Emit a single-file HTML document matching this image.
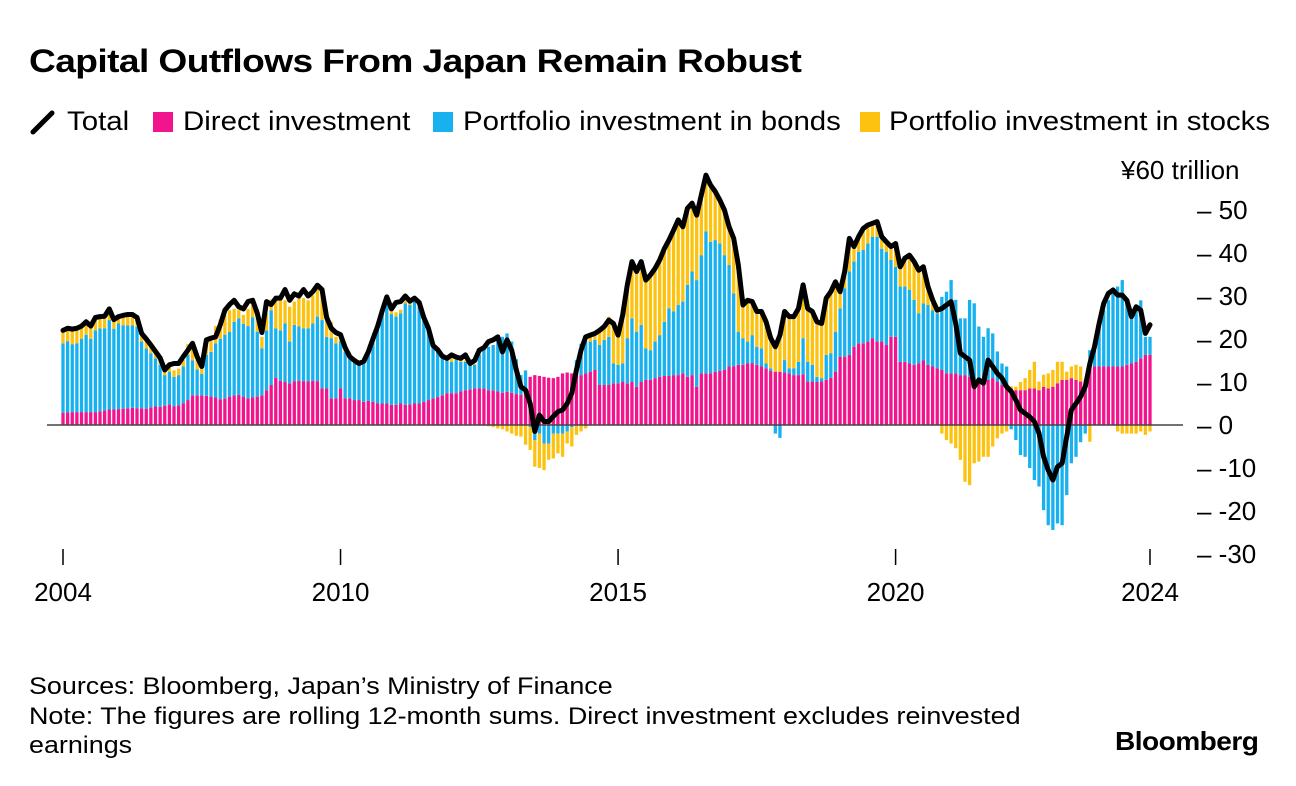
<!DOCTYPE html>
<html><head><meta charset="utf-8">
<style>
body{margin:0;background:#fff;font-family:"Liberation Sans",Arial,sans-serif;}
#wrap{position:relative;width:1296px;height:786px;overflow:hidden;background:#fff;}
.t{position:absolute;white-space:nowrap;color:#000;transform-origin:0 50%;}
.lg{position:absolute;top:106px;font-size:27px;white-space:nowrap;transform:scaleX(1.09);transform-origin:0 50%;}
.sq{position:absolute;top:112px;width:20px;height:20px;}
</style></head>
<body>
<div id="wrap">
<div class="t" style="left:29px;top:43px;font-size:32px;font-weight:bold;letter-spacing:-0.5px;transform:scaleX(1.16);">Capital Outflows From Japan Remain Robust</div>
<div>
  <svg width="26" height="26" style="position:absolute;left:30px;top:109px"><line x1="3" y1="23" x2="22" y2="4" stroke="#000" stroke-width="5" stroke-linecap="round"/></svg>
  <span class="lg" style="left:67px;">Total</span>
  <span class="sq" style="left:153px;background:#f2148c"></span>
  <span class="lg" style="left:183px;">Direct investment</span>
  <span class="sq" style="left:433px;background:#17b1f0"></span>
  <span class="lg" style="left:463px;">Portfolio investment in bonds</span>
  <span class="sq" style="left:860px;background:#fdc20f"></span>
  <span class="lg" style="left:889px;">Portfolio investment in stocks</span>
</div>
<svg id="chart" width="1296" height="786" style="position:absolute;left:0;top:0;font-family:'Liberation Sans',Arial,sans-serif;"></svg>
<div class="t" style="left:29px;top:672px;font-size:24px;line-height:29.5px;transform:scaleX(1.12);transform-origin:0 0;">Sources: Bloomberg, Japan’s Ministry of Finance<br>Note: The figures are rolling 12-month sums. Direct investment excludes reinvested<br>earnings</div>
<div class="t" style="left:1115px;top:726px;font-size:26px;font-weight:bold;letter-spacing:-0.5px;transform:scaleX(1.08);">Bloomberg</div>
</div>
<script>
const direct=[2.8,2.9,3,3,3,3,3,3,3.2,3.4,3.6,3.6,
3.7,3.8,3.9,4,3.9,3.9,3.8,4.1,4.3,4.2,4.5,4.8,
4.3,4.6,5,5.8,6.9,6.9,6.9,6.8,6.6,6.4,6.0,6.2,
6.6,6.9,7,6.6,6.2,6.4,6.6,6.9,8.1,9.3,11,10.3,
10,9.7,10.2,10.3,10.2,10.2,10.3,10.2,8.5,8.5,6.2,6.2,
8.5,6.2,6.2,5.8,5.8,5.4,5.6,5.4,5,5,5,4.7,
4.7,5,4.7,4.8,5,5,5.4,5.8,6.2,6.5,6.9,7.4,
7.4,7.4,7.8,8.1,8.3,8.5,8.5,8.5,8.1,8,7.8,7.5,
7.7,7.5,7.2,7,8.1,11.2,11.6,11.4,11.2,11,10.9,11.2,
12,12.2,12,12,11.6,12,12.4,12.8,9.3,9.3,9.3,9.7,
9.7,10,9.7,10,8.9,10,10.5,10.5,10.9,11.2,11.4,11.4,
11.6,11.6,12,11.2,11.6,8.9,12,12,12,12.4,12.6,12.8,
13.6,13.6,14,14,14.3,14.4,14,13.6,13.2,12.6,12.4,12.4,
12.2,12,11.6,11.6,11.8,10.1,10.1,10,10.1,10.5,11,12.4,
15.9,15.9,16.3,18.2,19,19,19.4,20.2,19.4,19.4,18.6,20.5,
20.5,14.7,14.7,14.3,14,14.3,15,14,13.6,13.2,12.8,12,
12,12,11.6,11.6,11.2,10.5,10.5,10.1,10.5,10.9,10.1,9.3,
8.9,8.5,8.1,8.1,8.1,8.5,8.5,8.1,8.9,8.5,8.9,9.7,
10.5,10.5,10.9,10.5,10.1,10.1,13.6,13.6,13.6,13.6,13.6,13.6,
13.6,13.6,14,14.3,14.7,15.5,16.3,16.3];
const bonds=[16.2,16.6,15.8,16,17,18,17,19,19.3,19.1,20.8,18.8,
19.9,19.4,19.3,19.2,18.9,15.5,14,12.6,11.2,9.8,7.1,7.6,
6.9,7,8.6,10.5,8.1,6,5,9.5,10.4,12.6,14,14.8,
15.1,17.1,17.8,16.9,16.8,18.6,15.1,10.9,13.9,17.4,11.5,11.7,
13.6,9.7,13.1,12.6,12.3,12.3,13.3,15,15.9,12,14,12.8,
11,10.8,9.2,8.7,8.2,9.1,11.1,14.3,17.4,21,23.8,21.1,
20.5,21,23.6,23.1,23.7,22.5,19,16.3,12,10.9,9,7.7,
7.3,7.7,6.9,6.6,6,5.5,7.8,9.3,10.1,10.6,12.4,13,
13.6,11.9,8.1,4.6,4.6,-0.5,-3.5,-2,-4.3,-4.3,-2,-2,
-2,-1.5,-0.5,3.1,7.3,7.4,7,7,9.3,10.5,11.2,4.6,
4.3,4.3,10.5,14.8,12.8,13.3,7.3,6.9,8.5,9.7,12.6,15.7,
14.8,16.3,16.7,21.4,24.1,24.8,27.5,33,30.6,30.6,29.6,26.7,
23.6,17,7.7,6.2,5.1,6.5,4.2,4.2,1.1,0.6,-2,-3,
2.9,1.2,1.6,3.1,8.4,4.6,3.9,1.2,0.8,5.8,5.7,9.3,
11.2,15.9,19.4,19.8,21.3,21.7,22.8,23.6,24.4,21.6,21.7,17.9,
16.3,17.5,17.5,17.1,15.1,11.7,13.3,13.9,13.1,12.8,17,19,
21.7,17.1,13.2,13.2,17.9,17.8,12.4,10.4,12,10.4,7,5,
4.7,-1,-3.5,-7,-7.4,-10,-12.8,-14.3,-19.8,-23.3,-24.4,-22.9,
-23.3,-16.3,-8.9,-7.4,-4,-2,3.8,4.6,10.4,13.1,15.4,17.4,
18.6,20.1,15,11.7,12,13.5,4.2,4.2];
const stocks=[3,2.5,3.5,3.5,3,2.8,3,2.8,2.7,2.8,2.6,2.1,
1.6,2.3,2.5,2.5,2.3,1.9,2.2,1.9,1.6,1.6,1.2,1.6,
1.5,1.5,1.5,2.5,3.5,3,2,2.5,3,4,4.5,4.5,
5,3,2,2.1,4,3.3,3.5,2.7,4,2.5,6.5,7,
5.4,8.1,5.4,7.7,7,6.5,6.6,7,7,3.9,3.8,1.5,
1.5,1,0.5,0.5,0.3,0.3,0.3,0.3,0.5,0.5,1,1.2,
1,0.8,1.2,1,1,0.8,0.6,0.5,0.5,0.4,0.3,0.3,
0.8,0.6,0.5,0.3,0.2,0.2,0.2,0,-0.3,-0.5,-0.8,-1,
-1.5,-2,-2.5,-2.7,-4.6,-5.3,-6.2,-8,-6.2,-3.8,-5.8,-4.6,
-5.4,-2.8,-4.5,-2.3,-1.5,-0.8,1.5,1.5,3.4,3,4.7,9.3,
6.9,11.3,12.4,13.2,14,14.7,15.9,17.5,17,17.5,17,15.9,
18.9,19.8,17.4,17.8,15.9,15.1,14,13.1,13.2,11.3,10.1,10.5,
8.9,12.8,15.5,7.7,9.6,7.8,8.2,8.6,9.7,7,5.8,8.5,
11.3,12,12,12.4,12.4,12.4,12.4,12.8,12.7,13.2,14.3,11.6,
3.9,3.9,7.7,3.5,3.5,5,4.3,3.1,3.5,2.8,2.3,3.1,
5.4,4.6,6.6,8.1,8.9,10,8.5,4.3,2.4,0.7,-2,-3.5,
-4.3,-5.4,-8.1,-13.2,-14,-8.9,-8.5,-7.4,-7.4,-5,-3.1,-2,
-1.5,0.5,0.8,1.9,2.8,4.3,6.2,2,2.8,3.5,3.9,5,
4.2,1.9,2.7,3.5,3.5,0.5,-3.9,0,0,0,0,0,
-1.5,-2,-2,-2,-2,-1.5,-2.3,-1.5];
const total=[22,22.5,22.3,22.5,23,24,23,25,25.2,25.3,27,24.5,
25.2,25.5,25.7,25.7,25,21.3,20,18.6,17.1,15.6,12.8,14,
14.3,14.3,15.9,17.4,19,15.9,13.6,19.8,20.2,20.5,23.3,26.7,
28,29,27.5,27,28.7,29,26,21.5,28.7,28,29.5,29.5,
31.5,29,30.5,30,31.5,30,31,32.5,31.5,25,22.5,21.5,
21,18,15.9,15,14.3,14.8,17,20,22.9,26.5,29.8,27,
28.5,28.7,30,28.8,29.5,28.5,25,22.5,18.5,17.5,16,15.5,
16.3,15.8,15.5,16.3,14.3,15,17.4,18,19.4,19.8,20.5,17,
19.8,17.4,12.8,8.9,8.1,5,-1.5,2.3,0.8,0.8,2,3.1,
3.5,5,7.4,12.8,17.4,20.5,20.9,21.3,22,22.9,24.4,23.6,
20.9,25.6,32.6,38,35.7,38,33.7,34.9,36.4,38.4,41,43,
45.3,47.7,46.1,50.4,51.6,48.8,53.5,58.1,55.8,54.3,52.3,50,
46.1,43.4,37.2,27.9,29,28.7,26.4,26.4,24,20.2,18.2,20.9,
26.4,25.2,25.2,27.1,32.6,27.1,26.4,24,23.6,29.5,31,33.3,
31,35.7,43.4,41.5,43.8,45.7,46.5,46.9,47.3,43.8,42.6,41.5,
42.2,36.8,38.8,39.5,38,36,36.8,32.2,29.1,26.7,27.1,27.9,
28.7,23.6,16.7,15.9,15.1,8.9,10.5,9.7,15.1,13.6,12,10.9,
8.9,7.8,5.8,3.5,2.7,1.9,0.8,-1.9,-7.4,-10.5,-12.8,-9.7,
-8.9,-2.7,3.5,5,6.6,8.9,14.3,18.2,23.6,28.3,30.6,31.4,
30.2,30.2,29,25.2,27.5,26.7,21.3,23.3];
const yTicks=[50,40,30,20,10,0,-10,-20,-30];
const xTickLabels=["2004","2010","2015","2020","2024"];
const xTickIndex=[0,60,120,180,235];

const NS="http://www.w3.org/2000/svg";
const svg=document.getElementById('chart');
const N=direct.length;
const x0=63,x1=1150,y0=425,pxPerUnit=4.3;
function xs(i){return x0+i*(x1-x0)/(N-1);}
function ys(v){return y0-v*pxPerUnit;}
function mk(tag,attrs){const e=document.createElementNS(NS,tag);for(const k in attrs)e.setAttribute(k,attrs[k]);svg.appendChild(e);return e;}
const bw=3.3;
const colors={direct:"#f2148c",bonds:"#17b1f0",stocks:"#fdc20f"};
for(let i=0;i<N;i++){
  let pos=0,neg=0;
  const parts=[["direct",direct[i]],["bonds",bonds[i]],["stocks",stocks[i]]];
  for(const [k,v] of parts){
    if(!v)continue;
    let a,b;
    if(v>0){a=pos;b=pos+v;pos=b;}else{a=neg;b=neg+v;neg=b;}
    const top=ys(Math.max(a,b)),bot=ys(Math.min(a,b));
    const r=mk('rect',{x:(xs(i)-bw/2).toFixed(2),y:top.toFixed(2),width:bw,height:(bot-top).toFixed(2),fill:colors[k]});
    
    
  }
}
const zl=mk('line',{x1:47,x2:1183,y1:y0,y2:y0,stroke:"#444",'stroke-width':1.5});


let d="";
for(let i=0;i<N;i++)d+=(i?"L":"M")+xs(i).toFixed(2)+","+ys(total[i]).toFixed(2);
const ln=mk('path',{d:d,fill:"none",stroke:"#000",'stroke-width':5,'stroke-linejoin':"round",'stroke-linecap':"round"});


for(const v of yTicks){
  const t=mk('text',{x:1197,y:(ys(v)+9).toFixed(1),'font-size':26,fill:"#000"});
  t.textContent="–  "+v;
  
  
}
const yt=mk('text',{x:1121,y:179,'font-size':26,fill:"#000"});
yt.textContent="¥60  trillion";


for(let j=0;j<xTickIndex.length;j++){
  const x=xs(xTickIndex[j]);
  const tk=mk('line',{x1:x,x2:x,y1:549,y2:565,stroke:"#000",'stroke-width':1.5});
  
  
  const t=mk('text',{x:x,y:601,'font-size':26,'text-anchor':"middle",fill:"#000"});
  t.textContent=xTickLabels[j];
  
  
}
</script>
</body></html>
